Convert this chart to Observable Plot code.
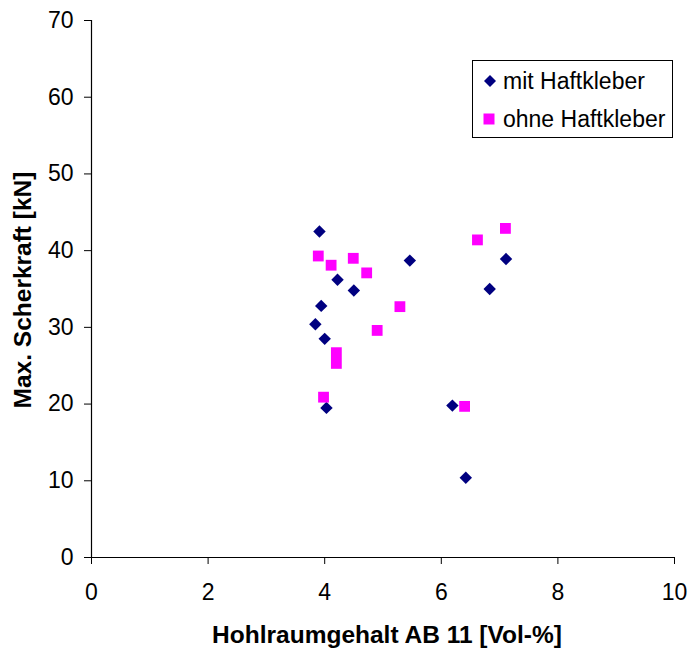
<!DOCTYPE html>
<html><head><meta charset="utf-8">
<script src="https://cdn.jsdelivr.net/npm/d3@7"></script>
<script src="https://cdn.jsdelivr.net/npm/@observablehq/plot@0.6"></script>
<style>
body{margin:0;background:#fff;font-family:"Liberation Sans",Arial,sans-serif;overflow:hidden;}
#wrap{position:relative;width:691px;height:648px;}
#wrap > svg{display:block;}
</style></head>
<body><div id="wrap"></div>
<script>
const seriesNames = ["mit Haftkleber", "ohne Haftkleber"];
const mitX = [3.91, 5.46, 4.22, 4.50, 3.94, 3.84, 4.00, 4.03, 7.11, 6.83, 6.19, 6.42];
const mitY = [42.5, 38.7, 36.2, 34.8, 32.8, 30.4, 28.5, 19.5, 38.9, 35.0, 19.8, 10.4];
const ohneX = [3.89, 4.11, 4.49, 4.72, 5.29, 4.90, 4.20, 4.20, 3.98, 7.10, 6.62, 6.40];
const ohneY = [39.3, 38.1, 39.0, 37.1, 32.7, 29.6, 26.7, 25.3, 20.9, 42.9, 41.4, 19.7];
const xTicks = [0, 2, 4, 6, 8, 10];
const yTicks = [0, 10, 20, 30, 40, 50, 60, 70];

const mit = mitX.map((x, i) => ({x, y: mitY[i]}));
const ohne = ohneX.map((x, i) => ({x, y: ohneY[i]}));

const chart = Plot.plot({
  width: 691, height: 648,
  marginLeft: 91, marginRight: 17, marginTop: 20, marginBottom: 91,
  style: {fontFamily: '"Liberation Sans", Arial, sans-serif', color: "#000", background: "#fff"},
  x: {domain: [0, 10], label: null},
  y: {domain: [0, 70], label: null},
  marks: [
    Plot.axisX({ticks: xTicks, tickSize: 7, tickPadding: 19, label: null, stroke: "#000", fontSize: 23, fill: "#000"}),
    Plot.axisY({ticks: yTicks, tickSize: 7, tickPadding: 11, label: null, stroke: "#000", fontSize: 23, fill: "#000"}),
    Plot.ruleY([0], {stroke: "#000", strokeWidth: 1.2}),
    Plot.ruleX([0], {stroke: "#000", strokeWidth: 1.2}),
    Plot.dot(mit, {x: "x", y: "y", symbol: "diamond2", r: 5.6, fill: "#000080", stroke: null}),
    Plot.dot(ohne, {x: "x", y: "y", symbol: "square", r: 6.1, fill: "#FF00FF", stroke: null})
  ]
});
const wrap = document.getElementById("wrap");
wrap.appendChild(chart);

const svg = d3.select(chart);
svg.append("text").attr("x", 387).attr("y", 643)
  .attr("text-anchor", "middle").attr("font-weight", "bold").attr("font-size", 24.5).attr("fill", "#000")
  .text("Hohlraumgehalt AB 11 [Vol-%]");
svg.append("text").attr("transform", "translate(31,290) rotate(-90)")
  .attr("text-anchor", "middle").attr("font-weight", "bold").attr("font-size", 24.5).attr("fill", "#000")
  .text("Max. Scherkraft [kN]");

// legend box
const lg = svg.append("g").attr("text-anchor", "start");
lg.append("rect").attr("x", 472.5).attr("y", 60.5).attr("width", 200).attr("height", 77)
  .attr("fill", "#fff").attr("stroke", "#000").attr("stroke-width", 1);
lg.append("path").attr("d", "M490,75L496,81L490,87L484,81Z").attr("fill", "#000080");
lg.append("rect").attr("x", 483.5).attr("y", 113.5).attr("width", 11).attr("height", 11).attr("fill", "#FF00FF");
lg.append("text").attr("x", 503).attr("y", 88.5).attr("font-size", 23).attr("fill", "#000").attr("text-anchor", "start").text(seriesNames[0]);
lg.append("text").attr("x", 503).attr("y", 127).attr("font-size", 23).attr("fill", "#000").attr("text-anchor", "start").text(seriesNames[1]);
</script></body></html>
